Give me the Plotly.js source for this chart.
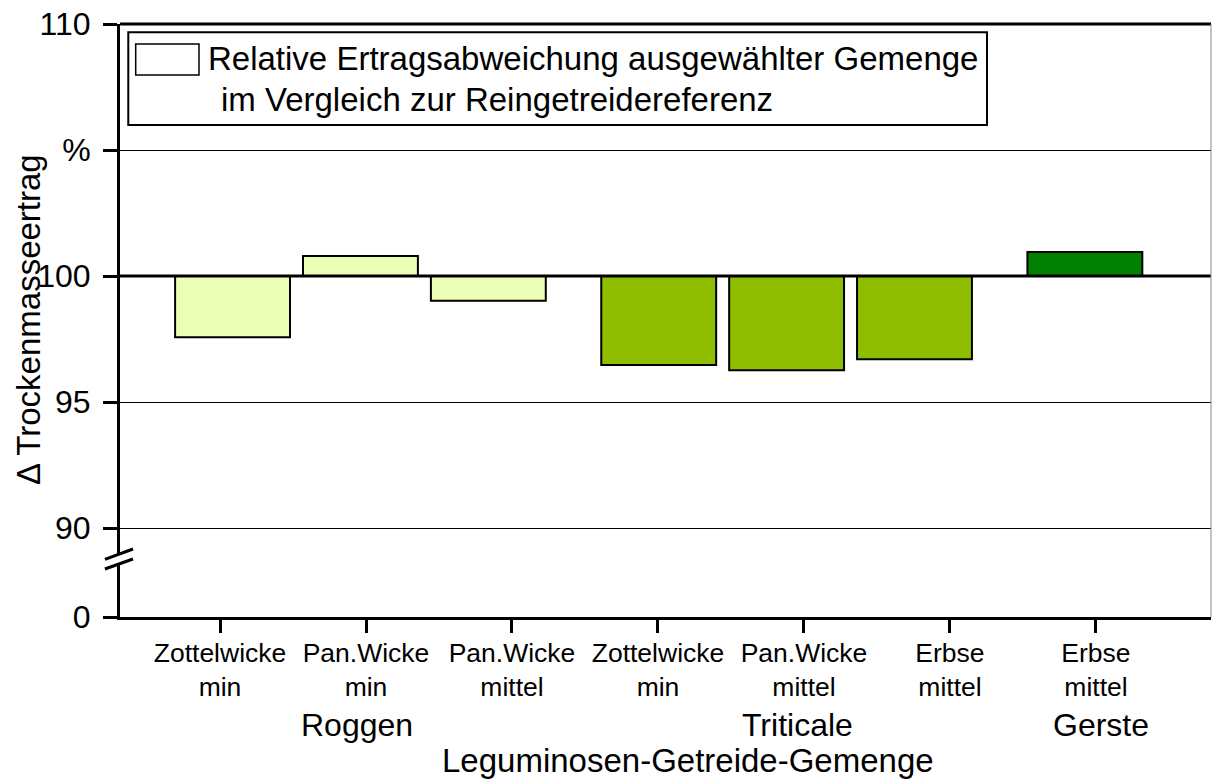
<!DOCTYPE html>
<html>
<head>
<meta charset="utf-8">
<script src="https://cdn.plot.ly/plotly-3.0.1.min.js"></script>
<style>
  html, body { margin: 0; padding: 0; background: #ffffff; }
  #chart { width: 1212px; height: 780px; }
</style>
</head>
<body>
<div id="chart"></div>
<script>
// ---- data ----
const tickLabels = ['Zottelwicke<br>min', 'Pan.Wicke<br>min', 'Pan.Wicke<br>mittel', 'Zottelwicke<br>min', 'Pan.Wicke<br>mittel', 'Erbse<br>mittel', 'Erbse<br>mittel'];
const groups = ['Roggen', 'Roggen', 'Roggen', 'Triticale', 'Triticale', 'Triticale', 'Gerste'];
const groupNames = ['Roggen', 'Triticale', 'Gerste'];
const values = [97.57, 100.79, 99.02, 96.47, 96.26, 96.70, 100.95];
const baseValue = 100;
const yTickVals = [86.47, 90, 95, 100, 105, 110];
const yTickText = ['0', '90', '95', '100', '%', '110'];
const legendLines = ['Relative Ertragsabweichung ausgewählter Gemenge', 'im Vergleich zur Reingetreidereferenz'];
const yTitle = '\u0394 Trockenmasseertrag';
const xTitle = 'Leguminosen-Getreide-Gemenge';

// ---- styles / layout constants ----
const groupColors = { 'Roggen': '#EBFFB4', 'Triticale': '#8FBD00', 'Gerste': '#007F00' };
const FONT = 'Arial, "Liberation Sans", sans-serif';
const barStart = 0.086, barStep = 0.876, groupGap = 0.291, barWidth = 0.787;

const xPos = values.map((v, i) => barStart + i * barStep + groupNames.indexOf(groups[i]) * groupGap);

const barTrace = {
  type: 'bar',
  x: xPos,
  y: values.map(v => v - baseValue),
  base: baseValue,
  width: barWidth,
  marker: {
    color: groups.map(g => groupColors[g]),
    line: { color: '#000000', width: 2 }
  },
  showlegend: false,
  hoverinfo: 'skip'
};

const layout = {
  width: 1212,
  height: 780,
  margin: { l: 120, r: 1, t: 24, b: 163 },
  paper_bgcolor: '#ffffff',
  plot_bgcolor: '#ffffff',
  font: { family: FONT, color: '#000000' },
  showlegend: false,
  xaxis: {
    range: [-0.685, 6.788],
    tickmode: 'array',
    tickvals: tickLabels.map((t, i) => i),
    ticktext: tickLabels,
    ticks: 'outside',
    ticklen: 13,
    tickwidth: 3,
    tickcolor: '#000000',
    tickfont: { family: FONT, size: 26.5, color: '#000000' },
    ticklabelstandoff: -3,
    showline: true,
    linewidth: 3,
    linecolor: '#000000',
    showgrid: false,
    zeroline: false,
    fixedrange: true
  },
  yaxis: {
    range: [86.47, 110],
    tickmode: 'array',
    tickvals: yTickVals,
    ticktext: yTickText,
    ticks: 'outside',
    ticklen: 14,
    tickwidth: 3,
    tickcolor: '#000000',
    tickfont: { family: FONT, size: 32, color: '#000000' },
    ticklabelstandoff: 6,
    showline: true,
    linewidth: 3,
    linecolor: '#000000',
    showgrid: true,
    gridcolor: '#000000',
    gridwidth: 1,
    zeroline: false,
    fixedrange: true
  },
  shapes: [
    { type: 'line', xref: 'paper', yref: 'y', x0: 0, x1: 1, y0: baseValue, y1: baseValue, line: { color: '#000000', width: 3 }, layer: 'above' },
    { type: 'line', xref: 'paper', yref: 'paper', x0: 0, x1: 1, y0: 1, y1: 1, line: { color: '#000000', width: 3 }, layer: 'above' },
    { type: 'line', xref: 'paper', yref: 'paper', x0: 1, x1: 1, y0: 0, y1: 1, line: { color: '#888888', width: 1 }, layer: 'above' },
    { type: 'rect', xref: 'paper', yref: 'paper', x0: 0.0076, x1: 0.7947, y0: 0.8297, y1: 0.9860, fillcolor: '#ffffff', line: { color: '#000000', width: 2 }, layer: 'above' },
    { type: 'rect', xref: 'paper', yref: 'paper', x0: 0.0144, x1: 0.0724, y0: 0.9140, y1: 0.9663, fillcolor: '#ffffff', line: { color: '#000000', width: 1.5 }, layer: 'above' },
    { type: 'path', xref: 'paper', yref: 'paper', path: 'M -0.0138 0.0973 L 0.0119 0.1147 L 0.0119 0.0978 L -0.0138 0.0809 Z', fillcolor: '#ffffff', line: { width: 0 }, layer: 'above' },
    { type: 'line', xref: 'paper', yref: 'paper', x0: -0.0138, y0: 0.0973, x1: 0.0119, y1: 0.1147, line: { color: '#000000', width: 3 }, layer: 'above' },
    { type: 'line', xref: 'paper', yref: 'paper', x0: -0.0138, y0: 0.0809, x1: 0.0119, y1: 0.0978, line: { color: '#000000', width: 3 }, layer: 'above' }
  ],
  annotations: [
    { text: legendLines[0], xref: 'paper', yref: 'paper', x: 0.0785, y: 0.9417, xanchor: 'left', yanchor: 'middle', showarrow: false, font: { family: FONT, size: 33, color: '#000000' } },
    { text: legendLines[1], xref: 'paper', yref: 'paper', x: 0.0904, y: 0.8730, xanchor: 'left', yanchor: 'middle', showarrow: false, font: { family: FONT, size: 33, color: '#000000' } },
    { text: groupNames[0], xref: 'paper', yref: 'paper', x: 0.2172, y: -0.1826, xanchor: 'center', yanchor: 'middle', showarrow: false, font: { family: FONT, size: 32, color: '#000000' } },
    { text: groupNames[1], xref: 'paper', yref: 'paper', x: 0.6214, y: -0.1826, xanchor: 'center', yanchor: 'middle', showarrow: false, font: { family: FONT, size: 32, color: '#000000' } },
    { text: groupNames[2], xref: 'paper', yref: 'paper', x: 0.8992, y: -0.1826, xanchor: 'center', yanchor: 'middle', showarrow: false, font: { family: FONT, size: 32, color: '#000000' } },
    { text: xTitle, xref: 'paper', yref: 'paper', x: 0.5206, y: -0.2428, xanchor: 'center', yanchor: 'middle', showarrow: false, font: { family: FONT, size: 33, color: '#000000' } },
    { text: yTitle, xref: 'paper', yref: 'paper', x: -0.0843, y: 0.5008, xanchor: 'center', yanchor: 'middle', textangle: -90, showarrow: false, font: { family: FONT, size: 33, color: '#000000' } }
  ]
};

Plotly.newPlot('chart', [barTrace], layout, { displayModeBar: false, staticPlot: true });
</script>
</body>
</html>
